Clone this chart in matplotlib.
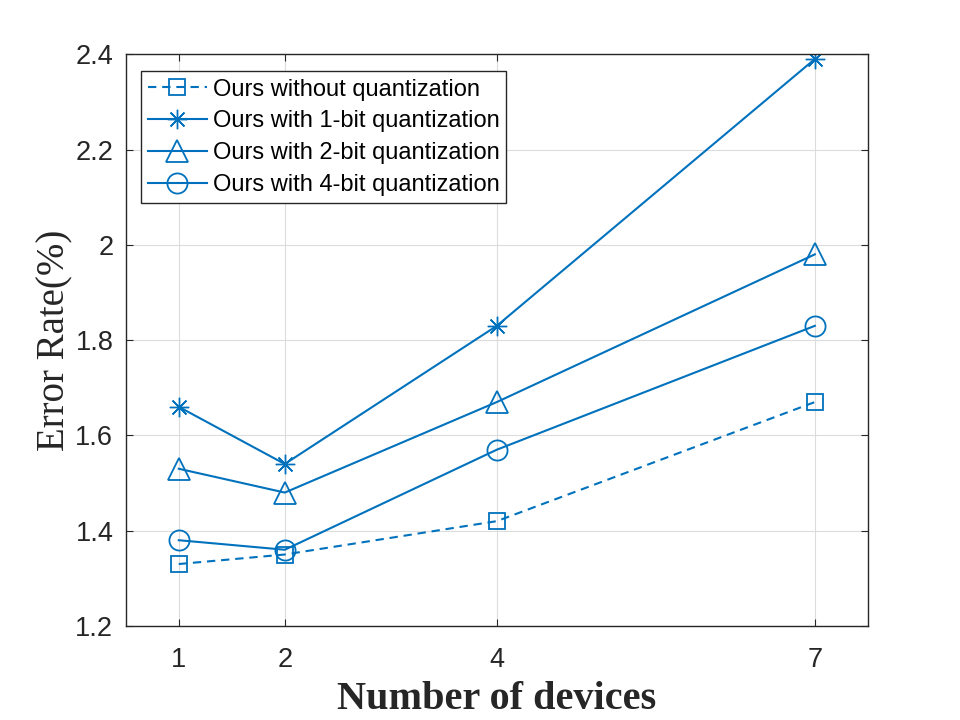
import matplotlib
matplotlib.use('Agg')
import matplotlib.pyplot as plt

# dados do grafico
devices = [1, 2, 4, 7]
err_noquant = [1.33, 1.35, 1.42, 1.67]
err_1bit = [1.66, 1.54, 1.83, 2.39]
err_2bit = [1.53, 1.48, 1.67, 1.98]
err_4bit = [1.38, 1.36, 1.57, 1.83]

xticks = [1, 2, 4, 7]
yticks = [1.2, 1.4, 1.6, 1.8, 2.0, 2.2, 2.4]
ytick_labels = ['1.2', '1.4', '1.6', '1.8', '2', '2.2', '2.4']

cor = '#0072BD'

fig = plt.figure(figsize=(9.6, 7.2), dpi=100)
ax = fig.add_axes([0.131, 0.1306, 0.773, 0.794])

ax.plot(devices, err_noquant, color=cor, lw=1.5, ls=(0, (4, 2.8)), marker='s', ms=12, mfc='none', mew=1.3,
        label='Ours without quantization')
ax.plot(devices, err_1bit, '-', color=cor, lw=1.5, marker=(8, 2, 0), ms=14, mfc='none', mew=1.0,
        label='Ours with 1-bit quantization')
ax.plot(devices, err_2bit, '-', color=cor, lw=1.5, marker='^', ms=16, mfc='none', mew=1.3,
        label='Ours with 2-bit quantization')
ax.plot(devices, err_4bit, '-', color=cor, lw=1.5, marker='o', ms=14.5, mfc='none', mew=1.3,
        label='Ours with 4-bit quantization')

ax.set_xlim(0.5, 7.5)
ax.set_ylim(1.2, 2.4)
ax.set_xticks(xticks)
ax.set_yticks(yticks)
ax.set_yticklabels(ytick_labels)
ax.grid(True, color='#dcdcdc', lw=0.8)
ax.set_axisbelow(True)
ax.tick_params(direction='in', length=5, labelsize=19.5, colors='#262626', top=True, right=True)
ax.tick_params(axis='x', pad=15)
ax.tick_params(axis='y', pad=9)
for lab in ax.get_xticklabels() + ax.get_yticklabels():
    lab.set_family('Liberation Sans')
for s in ax.spines.values():
    s.set_color('#262626')
    s.set_linewidth(1.0)

ax.set_xlabel('Number of devices', family='Liberation Serif', fontweight='bold', fontsize=29,
              color='#262626', labelpad=6)
ax.set_ylabel('Error Rate(%)', family='Liberation Serif', fontsize=28, color='#262626',
              labelpad=1)

leg = ax.legend(loc='upper left', bbox_to_anchor=(0.02, 0.97), prop={'family': 'Liberation Sans', 'size': 17},
                fancybox=False, edgecolor='#262626', framealpha=1, handlelength=2.5,
                borderpad=0.3, labelspacing=0.42, handletextpad=0.25, borderaxespad=0)
leg.get_frame().set_linewidth(1.0)

plt.savefig('out.png')
